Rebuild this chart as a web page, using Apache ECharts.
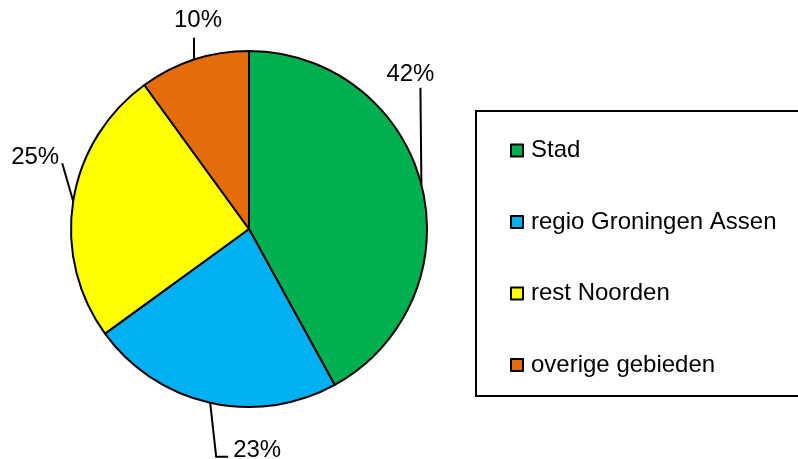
<!DOCTYPE html>
<html>
<head>
<meta charset="utf-8">
<script src="https://cdn.jsdelivr.net/npm/echarts@6/dist/echarts.min.js"></script>
<style>
  html, body { margin: 0; padding: 0; background: #fff; }
  #main { width: 798px; height: 459px; }
</style>
</head>
<body>
<div id="main"></div>
<script>
var categories = ['Stad', 'regio Groningen Assen', 'rest Noorden', 'overige gebieden'];
var shares = [42, 23, 25, 10];
var colors = ['#00B050', '#00B0F0', '#FFFF00', '#E46C0A'];

// leader line: from the slice edge, bend/end offsets and label offset from line end
var lineBend = [[-1, -97], [6, 54], [-11, -38], [0, -22]];
var lineTail = [[0, 0], [12, 0], [0, 0], [0, 0]];
var labelShift = [[-10, -13], [29, -6], [-27, -6], [4, -17]];

var myChart = echarts.init(document.getElementById('main'));
var option = {
    animation: false,
    legend: {
        orient: 'vertical',
        left: 476,
        top: 111,
        icon: 'rect',
        itemWidth: 12,
        itemHeight: 12,
        itemGap: 46.5,
        padding: [27, 40, 18.5, 34],
        borderColor: '#000',
        borderWidth: 2,
        textStyle: {
            color: '#000',
            fontFamily: 'Liberation Sans',
            fontSize: 24,
            lineHeight: 25,
            padding: [0, 0, 0, 3]
        },
        data: categories
    },
    series: [{
        type: 'pie',
        center: [249, 229],
        radius: 178,
        startAngle: 90,
        clockwise: true,
        itemStyle: {
            borderColor: '#000',
            borderWidth: 2
        },
        label: {
            show: true,
            position: 'outside',
            overflow: 'none',
            color: '#000',
            fontFamily: 'Liberation Sans',
            fontSize: 24,
            formatter: function (p) {
                return Math.round(p.percent) + '%';
            }
        },
        labelLine: {
            show: true,
            length: 20,
            length2: 10,
            lineStyle: { color: '#000', width: 2 }
        },
        labelLayout: function (params) {
            var i = params.dataIndex;
            var p0 = params.labelLinePoints[0];
            var p1 = [p0[0] + lineBend[i][0], p0[1] + lineBend[i][1]];
            var p2 = [p1[0] + lineTail[i][0], p1[1] + lineTail[i][1]];
            return {
                x: p2[0] + labelShift[i][0],
                y: p2[1] + labelShift[i][1],
                align: 'center',
                verticalAlign: 'middle',
                labelLinePoints: [p0, p1, p2]
            };
        },
        data: categories.map(function (name, i) {
            return { name: name, value: shares[i], itemStyle: { color: colors[i] } };
        })
    }]
};
myChart.setOption(option);
</script>
</body>
</html>
